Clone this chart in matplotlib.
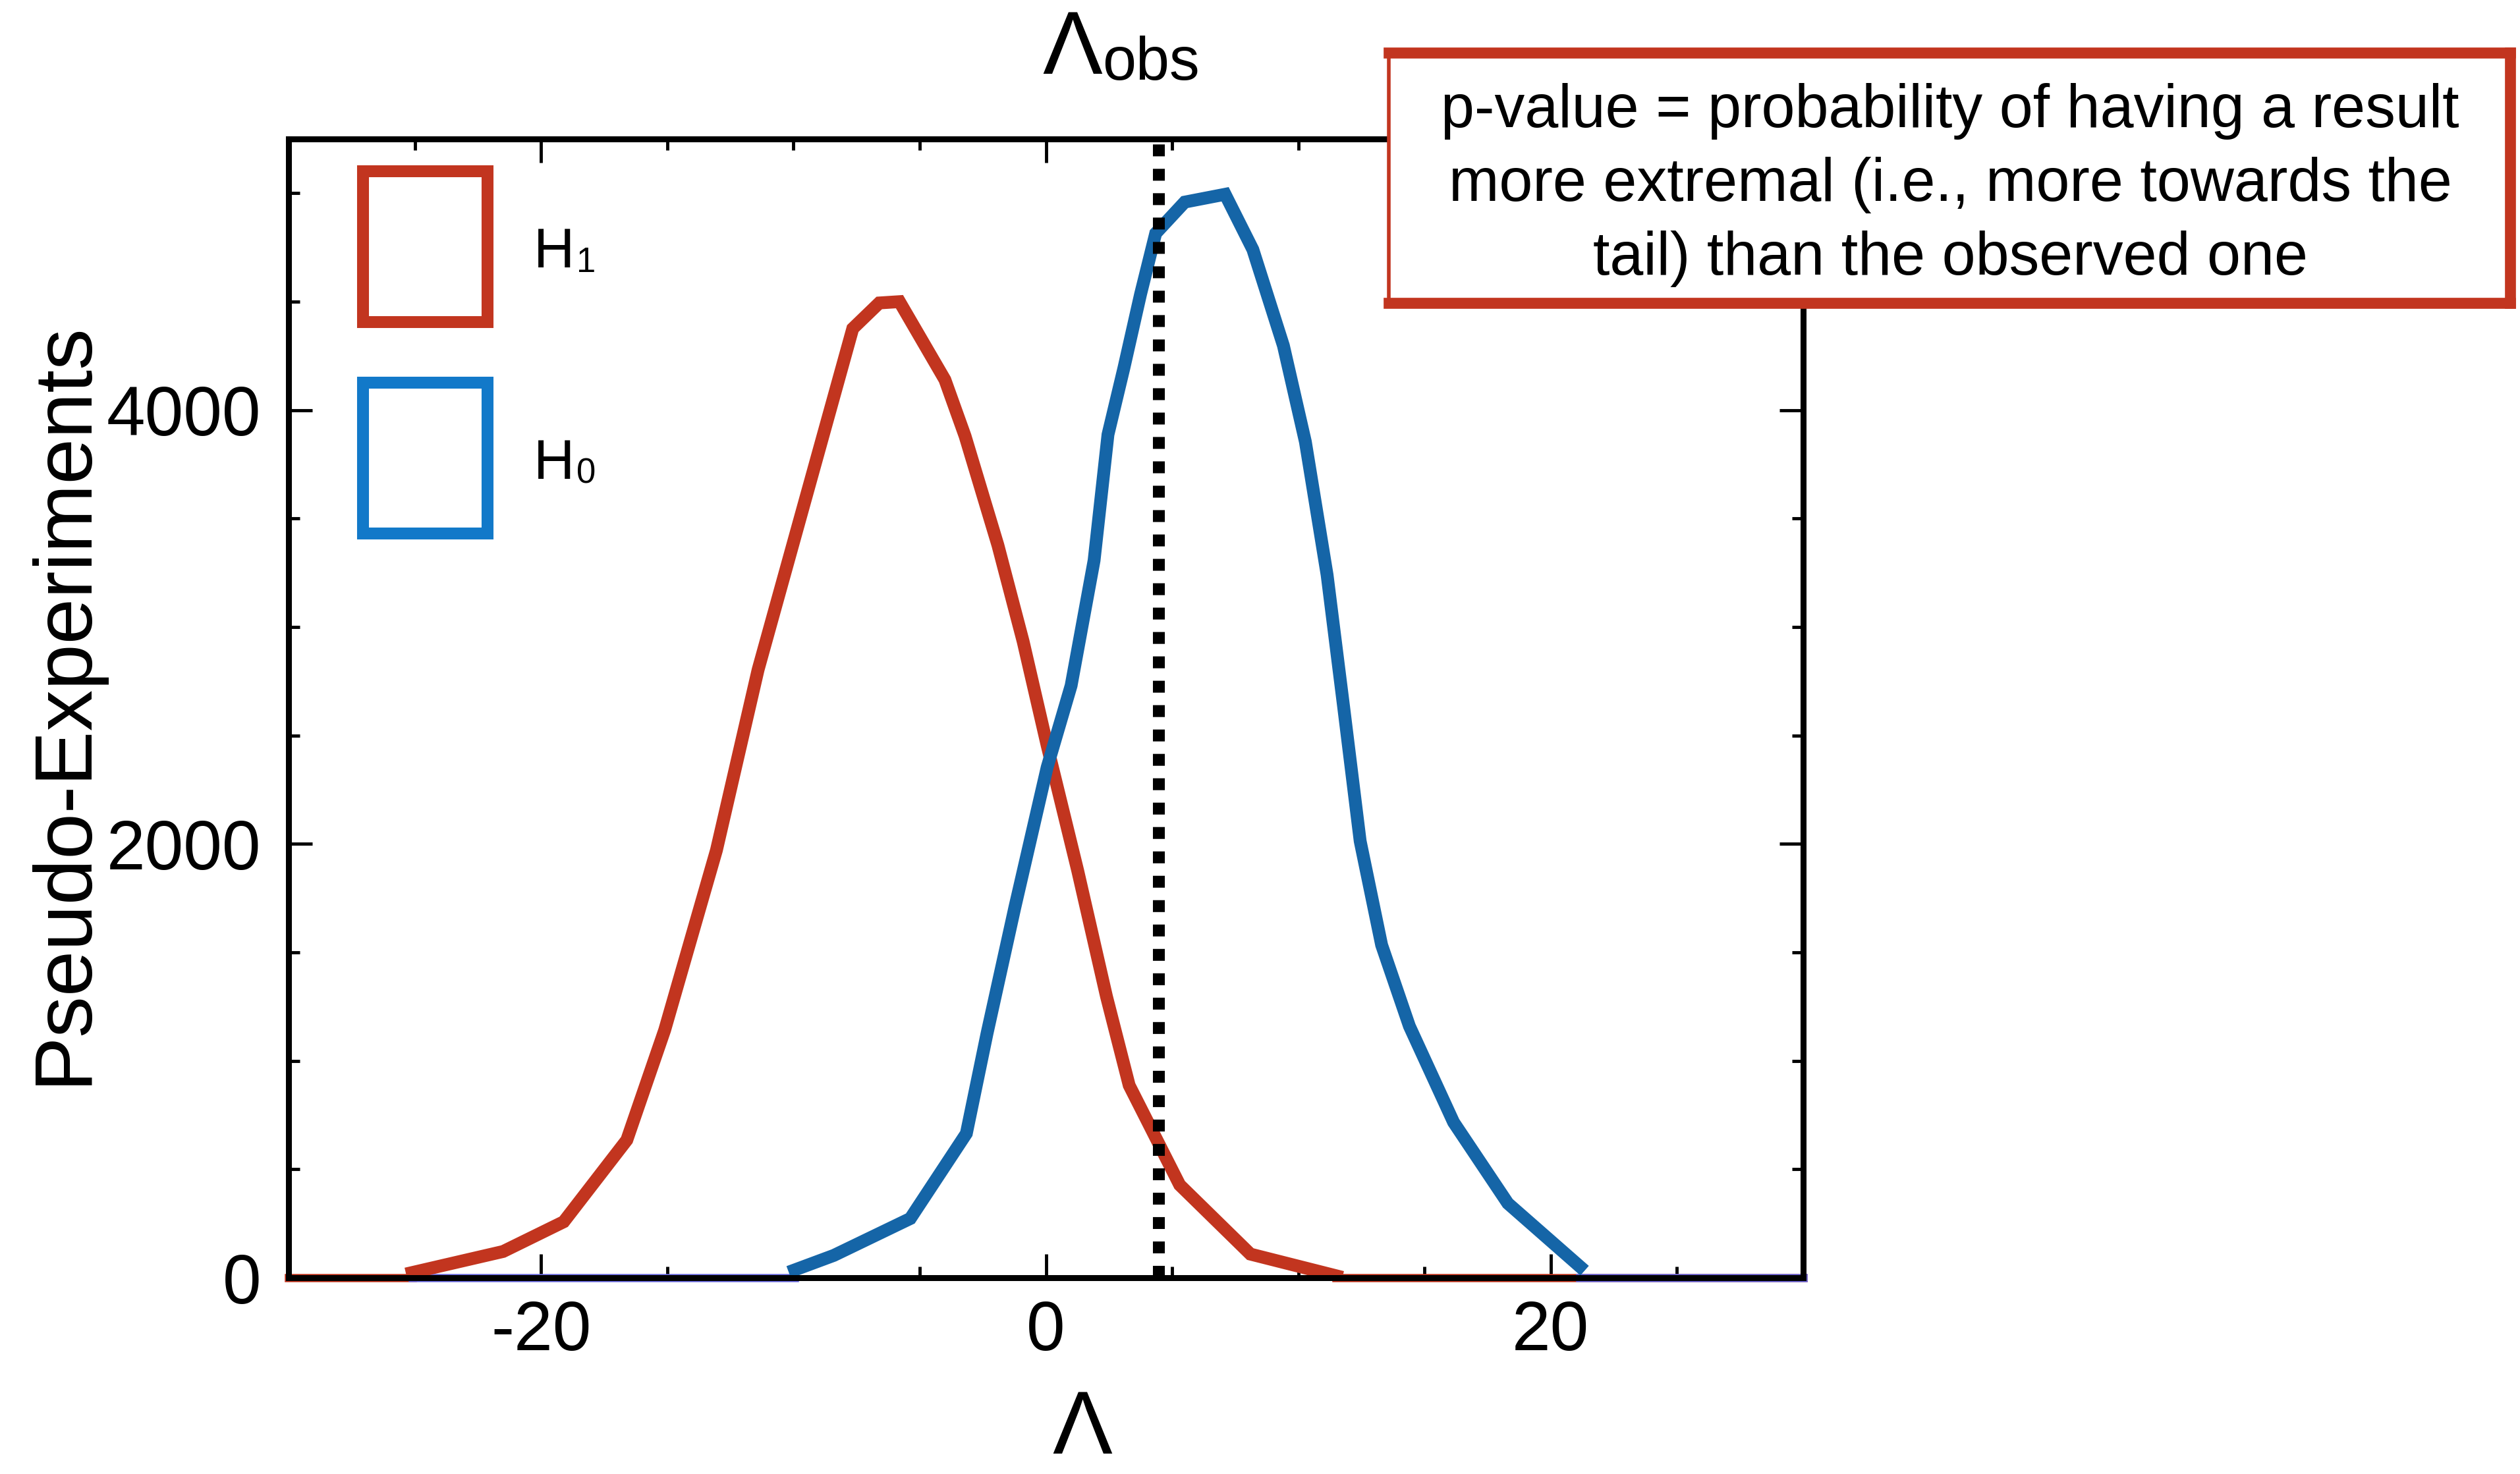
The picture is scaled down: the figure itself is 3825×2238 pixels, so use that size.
import matplotlib
matplotlib.use('Agg')
import matplotlib.pyplot as plt
from matplotlib.patches import Rectangle
from matplotlib.lines import Line2D
from matplotlib.ticker import MultipleLocator

plt.rcParams['font.family'] = ['Liberation Sans', 'DejaVu Sans']
plt.rcParams['axes.unicode_minus'] = False

# H1 (red) curve
h1_x = [-25.1, -21.5, -19.1, -16.6, -15.1, -13.05, -11.4, -7.65, -6.6, -5.8,
        -4.0, -3.2, -1.9, -0.9, 0.05, 1.26, 2.4, 3.3, 5.3, 8.1, 11.5]
h1_y = [24, 121, 258, 635, 1142, 1971, 2803, 4376, 4494, 4500,
        4140, 3880, 3377, 2933, 2454, 1877, 1297, 887, 428, 109, 9]

# H0 (blue) curve
h0_x = [-9.95, -8.4, -5.37, -3.15, -2.33, -1.23, 0.05, 1.0, 1.91, 2.46, 3.09,
        3.75, 4.35, 5.5, 7.1, 8.2, 9.41, 10.28, 11.14, 11.8, 12.45, 13.3,
        14.4, 16.15, 18.3, 21.15]
h0_y = [36, 103, 273, 665, 1127, 1707, 2353, 2730, 3307, 3887, 4194,
        4534, 4815, 4959, 4995, 4740, 4297, 3854, 3240, 2627, 2013, 1534,
        1160, 717, 343, 52]

# empty bins along the baseline
h1_tails = [([-30, -25.1], [0, 0]), ([11.5, 30], [0, 0])]
h0_tails = [([-25.1, -9.95], [0, 0]), ([21.15, 30], [0, 0])]

lambda_obs = 4.48
xlim = (-30, 30)
ylim = (0, 5250)

legend_labels = [('H', '1'), ('H', '0')]
box_lines = ['p-value = probability of having a result',
             'more extremal (i.e., more towards the',
             'tail) than the observed one']

RED = '#C2351F'
BLUE = '#1565A7'
LEG_BLUE = '#1279C9'
TAIL_BLUE = '#6b6be0'

W, H = 3825, 2238
fig = plt.figure(figsize=(W / 100, H / 100), dpi=100)
ax = fig.add_axes([438 / W, (H - 1940) / H, 2299 / W, 1729 / H])

for tx, ty in h1_tails:
    ax.plot(tx, ty, color=RED, lw=9, zorder=2, clip_on=False)
for tx, ty in h0_tails:
    ax.plot(tx, ty, color=TAIL_BLUE, lw=9, zorder=2, clip_on=False)

ax.plot(h1_x, h1_y, color=RED, lw=14, solid_joinstyle='miter', zorder=3)
ax.plot(h0_x, h0_y, color=BLUE, lw=14, solid_joinstyle='miter', zorder=3)
ax.axvline(lambda_obs, color='black', lw=13, linestyle=(0, (1, 1.05)),
           dash_capstyle='butt', zorder=4)

ax.set_xlim(*xlim)
ax.set_ylim(*ylim)
ax.xaxis.set_major_locator(MultipleLocator(20))
ax.xaxis.set_minor_locator(MultipleLocator(5))
ax.yaxis.set_major_locator(MultipleLocator(2000))
ax.yaxis.set_minor_locator(MultipleLocator(500))
ax.tick_params(which='both', direction='in', top=True, right=True,
               width=3.5, labelsize=76)
ax.tick_params(which='major', length=26)
ax.tick_params(which='minor', length=12)
ax.tick_params(axis='x', pad=24)
ax.tick_params(axis='y', pad=30)
for sp in ax.spines.values():
    sp.set_linewidth(6.5)
    sp.set_zorder(5)

# legend: open boxes + labels
box_y = [0.839, 0.6536]
colors = [RED, LEG_BLUE]
for (main, sub), by, c in zip(legend_labels, box_y, colors):
    ax.add_patch(Rectangle((0.0492, by), 0.0822, 0.1324, transform=ax.transAxes,
                           facecolor='none', edgecolor=c, lw=13,
                           joinstyle='miter', zorder=6))
    t = ax.text(0.1618, by + 0.048, main, transform=ax.transAxes,
                fontsize=62, ha='left', va='baseline')
    ax.annotate(sub, xy=(1, 0), xycoords=t, xytext=(2, 0),
                textcoords='offset points', fontsize=38, ha='left', va='bottom')

# y label and x label
fig.text(98 / W, 1 - 1067 / H, 'Pseudo-Experiments', rotation=90,
         fontsize=90, ha='center', va='center')
fig.text(1643 / W, 3 / H, 'Λ', fontsize=98, ha='center', va='bottom')

# Lambda_obs label on top
lam = fig.text(1582 / W, 1 - 112 / H, 'Λ', fontsize=98, ha='left', va='baseline')
ax.annotate('obs', xy=(1, 0), xycoords=lam, xytext=(0, 0),
            textcoords='offset points', fontsize=66, ha='left', va='bottom',
            annotation_clip=False)

# annotation box drawn over the axes
x0, x1, y0, y1 = 2108, 3810, 80, 460
fig.add_artist(Rectangle((x0 / W, 1 - y1 / H), (x1 - x0) / W, (y1 - y0) / H,
                         transform=fig.transFigure, facecolor='white',
                         edgecolor='none', zorder=10))
for xs, ys, lw in [((x0, x1), (y0, y0), 12), ((x1, x1), (y0, y1), 12),
                   ((x0, x1), (y1, y1), 12), ((x0, x0), (y0, y1), 4)]:
    fig.add_artist(Line2D([v / W for v in xs], [1 - v / H for v in ys],
                          transform=fig.transFigure, color=RED, lw=lw,
                          solid_capstyle='projecting', zorder=11))
for line, base in zip(box_lines, [193, 305, 417]):
    fig.text(2960 / W, 1 - base / H, line, fontsize=66, ha='center',
             va='baseline', zorder=12)

fig.savefig('out.png', dpi=100)
